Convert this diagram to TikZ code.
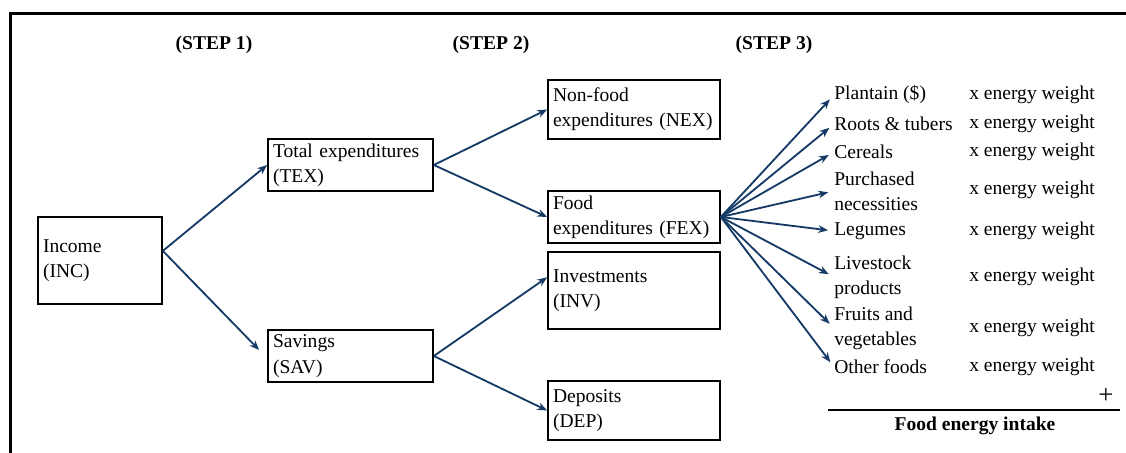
\documentclass[tikz,border=0pt]{standalone}
\usepackage{fontspec}
\setmainfont{Liberation Serif}
\usepackage{tikz}
\usetikzlibrary{calc,arrows.meta}
\definecolor{arrowblue}{RGB}{22,58,102}
\tikzset{>={Stealth[length=7pt,width=5.5pt]}}
\tikzset{
  box/.style={draw, line width=1.2pt, align=left, inner xsep=0.125cm, inner ysep=0pt},
  item/.style={align=left, anchor=west, inner sep=0pt},
  arr/.style={line width=1.3pt, arrowblue, ->},
}

\begin{document}
\begin{tikzpicture}[every node/.style={font=\fontsize{13.9}{18}\selectfont}]
      \useasboundingbox (0,0) rectangle (28.15,-11.325);
      % frame
      \draw[line width=2.2pt] (0.2625,-11.5) -- (0.2625,-0.3375) -- (28.3,-0.3375);
      % step headings
      \node (s1) at (5.35,-1.125)   {\textbf{(STEP 1)}};
      \node (s2) at (12.275,-1.125) {\textbf{(STEP 2)}};
      \node (s3) at (19.35,-1.125)  {\textbf{(STEP 3)}};
      % boxes
      \node[box, text width=2.85cm, minimum height=2.175cm] (inc) at (2.5,-6.5125) {Income\\(INC)};
      \node[box, text width=3.875cm, minimum height=1.3cm] (tex) at (8.7625,-4.125) {Total expenditures\\(TEX)};
      \node[box, text width=3.875cm, minimum height=1.3cm] (sav) at (8.7625,-8.9) {Savings\\(SAV)};
      \node[box, text width=4.05cm, minimum height=1.475cm] (nex) at (15.85,-2.7375) {Non-food\\expenditures (NEX)};
      \node[box, text width=4.05cm, minimum height=1.3cm] (fex) at (15.85,-5.425) {Food\\expenditures (FEX)};
      \node[box, text width=4.05cm, minimum height=1.925cm] (inv) at (15.85,-7.2625) {Investments\\(INV)};
      \node[box, text width=4.05cm, minimum height=1.475cm] (dep) at (15.85,-10.2625) {Deposits\\(DEP)};
      % food groups
      \node[item] (plan)  at (20.85,-2.375) {Plantain (\$)};
      \node[item] (roots) at (20.85,-3.1)   {Roots \& tubers};
      \node[item] (cer)   at (20.85,-3.8)   {Cereals};
      \node[item] (pur)   at (20.85,-4.775) {Purchased\\necessities};
      \node[item] (leg)   at (20.85,-5.775) {Legumes};
      \node[item] (live)  at (20.85,-6.925) {Livestock\\products};
      \node[item] (fruit) at (20.85,-8.2)   {Fruits and\\vegetables};
      \node[item] (oth)   at (20.85,-9.175) {Other foods};
      \foreach \y [count=\i] in {-2.375,-3.1,-3.8,-4.75,-5.775,-6.925,-8.2,-9.175}
        \node[item] (w\i) at (24.225,\y) {x energy weight};
      % sum
      \node[font=\fontsize{19}{19}\selectfont] (plus) at (27.65,-9.9) {+};
      \coordinate (rl) at (20.7,-10.25);
      \coordinate (rr) at (28.0,-10.25);
      \draw[line width=2pt] (rl) -- (rr);
      \node (fei) at (24.375,-10.65) {\textbf{Food energy intake}};
      % arrows
      \draw[arr] ($(inc.east)+(0,0.24)$) -- (tex.west);
      \draw[arr] ($(inc.east)+(0,0.24)$) -- ($(sav.west)+(-0.2,0.15)$);
      \draw[arr] (tex.east) -- (nex.west);
      \draw[arr] (tex.east) -- (fex.west);
      \draw[arr] (sav.east) -- ($(inv.west)+(0,0.33)$);
      \draw[arr] (sav.east) -- (dep.west);
      \foreach \n in {plan,roots,cer,pur,leg,live,fruit,oth}
        \draw[arr, shorten >=0.15cm] (fex.east) -- (\n.west);
\end{tikzpicture}
\end{document}
